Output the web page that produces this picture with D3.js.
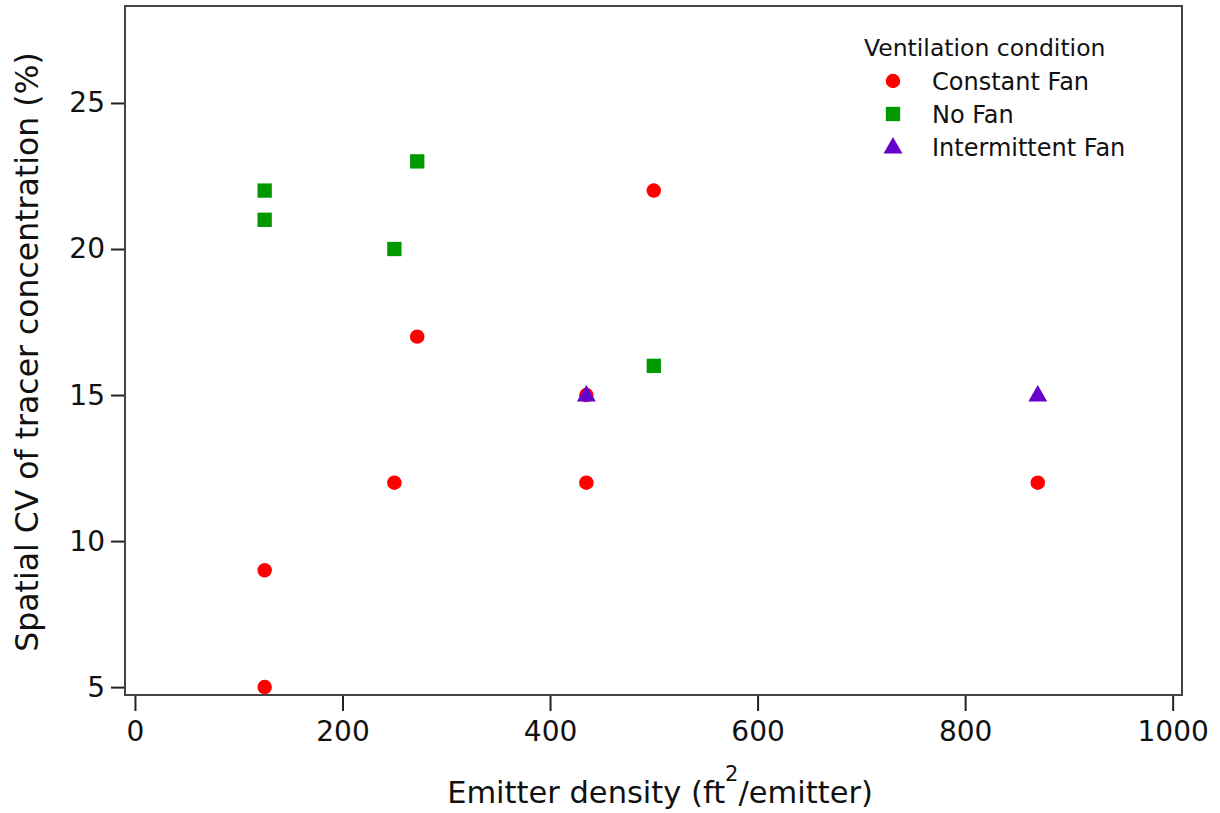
<!DOCTYPE html>
<html>
<head>
<meta charset="utf-8">
<script src="https://cdn.jsdelivr.net/npm/d3@7"></script>
<style>
  body { margin: 0; background: #fff; }
  text { font-family: "DejaVu Sans", sans-serif; fill: #111; }
</style>
</head>
<body>
<script>
"use strict"

// emitter density (ft2/emitter) and spatial CV (%)
var constantX = [125, 125, 250, 272, 435, 435, 500, 870];
var constantY = [9, 5, 12, 17, 15, 12, 22, 12];
var noFanX = [125, 125, 250, 272, 500];
var noFanY = [22, 21, 20, 23, 16];
var intermittentX = [435, 870];
var intermittentY = [15, 15];

var xTicks = [0, 200, 400, 600, 800, 1000];
var yTicks = [5, 10, 15, 20, 25];
var seriesNames = ["Constant Fan", "No Fan", "Intermittent Fan"];

var width = 1220, height = 813;
var plotLeft = 125, plotRight = 1182, plotTop = 6, plotBottom = 695;

var svg = d3.select("body").append("svg")
    .attr("width", width)
    .attr("height", height);

var x = d3.scaleLinear().domain([-9.6, 1009]).range([plotLeft, plotRight]);
var y = d3.scaleLinear().domain([4.73, 28.32]).range([plotBottom, plotTop]);

// frame
svg.append("rect")
    .attr("x", plotLeft)
    .attr("y", plotTop)
    .attr("width", plotRight - plotLeft)
    .attr("height", plotBottom - plotTop)
    .attr("fill", "none")
    .attr("stroke", "#444")
    .attr("stroke-width", 2);

var xAxis = svg.append("g")
    .attr("transform", "translate(0," + (plotBottom + 1) + ")")
    .call(d3.axisBottom(x).tickValues(xTicks).tickSize(15).tickPadding(10).tickFormat(d3.format("d")));
xAxis.select(".domain").remove();
xAxis.selectAll("line").attr("stroke", "#222").attr("stroke-width", 2);
xAxis.selectAll("text").attr("font-size", "28px").attr("font-family", "DejaVu Sans").attr("fill", "#111");

var yAxis = svg.append("g")
    .attr("transform", "translate(" + (plotLeft - 1) + ",0)")
    .call(d3.axisLeft(y).tickValues(yTicks).tickSize(13).tickPadding(6).tickFormat(d3.format("d")));
yAxis.select(".domain").remove();
yAxis.selectAll("line").attr("stroke", "#222").attr("stroke-width", 2);
yAxis.selectAll("text").attr("font-size", "28px").attr("font-family", "DejaVu Sans").attr("fill", "#111");

// axis titles
var xt = svg.append("text")
    .attr("x", 660)
    .attr("y", 803)
    .attr("text-anchor", "middle")
    .attr("font-size", "30.5px");
xt.append("tspan").text("Emitter density (ft");
xt.append("tspan").attr("dy", -22).attr("font-size", "21px").text("2");
xt.append("tspan").attr("dy", 22).text("/emitter)");

svg.append("text")
    .attr("transform", "translate(38,352) rotate(-90)")
    .attr("text-anchor", "middle")
    .attr("font-size", "31.5px")
    .text("Spatial CV of tracer concentration (%)");

// markers
var circle = d3.symbol().type(d3.symbolCircle).size(165);
var square = d3.symbol().type(d3.symbolSquare).size(205);
var triangle = d3.symbol().type(d3.symbolTriangle).size(155);

svg.append("g").selectAll("path")
    .data(constantX.map(function(d, i) { return [d, constantY[i]]; }))
    .join("path")
    .attr("d", circle)
    .attr("transform", function(d) { return "translate(" + x(d[0]) + "," + y(d[1]) + ")"; })
    .attr("fill", "#ff0000");

svg.append("g").selectAll("path")
    .data(noFanX.map(function(d, i) { return [d, noFanY[i]]; }))
    .join("path")
    .attr("d", square)
    .attr("transform", function(d) { return "translate(" + x(d[0]) + "," + y(d[1]) + ")"; })
    .attr("fill", "#009900");

svg.append("g").selectAll("path")
    .data(intermittentX.map(function(d, i) { return [d, intermittentY[i]]; }))
    .join("path")
    .attr("d", triangle)
    .attr("transform", function(d) { return "translate(" + x(d[0]) + "," + (y(d[1]) + 1) + ")"; })
    .attr("fill", "#6600cc");

// legend
var legend = svg.append("g").attr("transform", "translate(864,0)");
legend.append("text")
    .attr("x", 0)
    .attr("y", 56)
    .attr("font-size", "23.5px")
    .text("Ventilation condition");

var legendSymbols = [circle, square, triangle];
var legendColors = ["#ff0000", "#009900", "#6600cc"];
seriesNames.forEach(function(name, i) {
    var cy = 81 + i * 33;
    legend.append("path")
        .attr("d", legendSymbols[i])
        .attr("transform", "translate(29," + (cy + (i == 2 ? 1 : 0)) + ")")
        .attr("fill", legendColors[i]);
    legend.append("text")
        .attr("x", 68)
        .attr("y", cy + 9)
        .attr("font-size", "24px")
        .text(name);
});
</script>
</body>
</html>
